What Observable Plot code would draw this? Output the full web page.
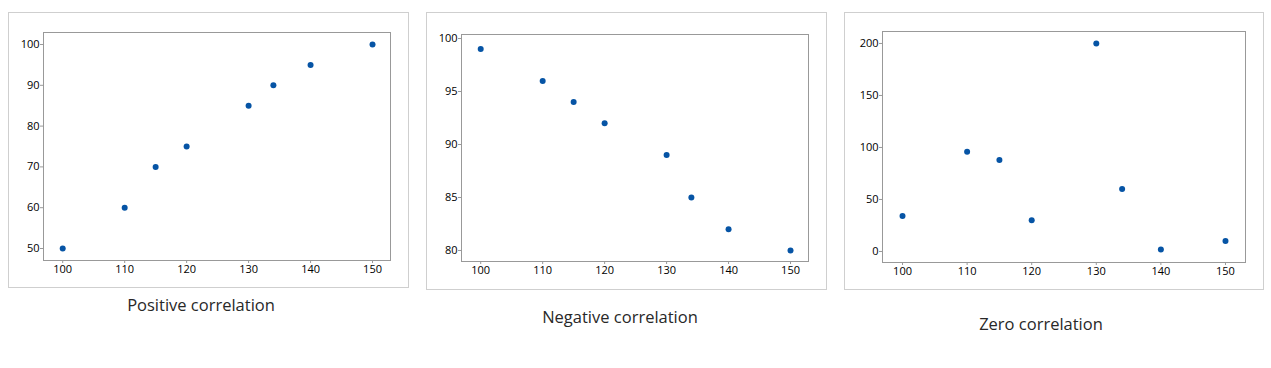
<!DOCTYPE html>
<html>
<head>
<meta charset="utf-8">
<script src="https://cdn.jsdelivr.net/npm/d3@7"></script>
<script src="https://cdn.jsdelivr.net/npm/@observablehq/plot@0.6"></script>
<style>
  html, body { margin: 0; padding: 0; background: #fff; }
  #root { position: relative; width: 1271px; height: 368px; overflow: hidden; }
  .box { position: absolute; border: 1px solid #cfcfcf; box-sizing: border-box; }
  .chart { position: absolute; }
  .cap { position: absolute; font-family: "Open Sans", "Noto Sans", sans-serif; font-size: 16.5px; color: #282828; white-space: nowrap; transform: translate(-50%, -50%); }
</style>
</head>
<body>
<div id="root"></div>
<script>
// ---- data ----
const xValues = [100, 110, 115, 120, 130, 134, 140, 150];
const positiveY = [50, 60, 70, 75, 85, 90, 95, 100];
const negativeY = [99, 96, 94, 92, 89, 85, 82, 80];
const zeroY = [34, 96, 88, 30, 200, 60, 2, 10];
const xTicks = [100, 110, 120, 130, 140, 150];
const positiveTicks = [50, 60, 70, 80, 90, 100];
const negativeTicks = [80, 85, 90, 95, 100];
const zeroTicks = [0, 50, 100, 150, 200];
const captions = ["Positive correlation", "Negative correlation", "Zero correlation"];

const panels = [
  {ys: positiveY, ticks: positiveTicks, ydom: [47.06, 102.94], xdom: [96.9, 152.9],
   left: 8, top: 12, w: 401, h: 276, ml: 35, mr: 19, mt: 20, mb: 28, capX: 201, capY: 304},
  {ys: negativeY, ticks: negativeTicks, ydom: [78.96, 100.38], xdom: [96.9, 152.9],
   left: 426, top: 12, w: 401, h: 278, ml: 35, mr: 19, mt: 22, mb: 29, capX: 620, capY: 316},
  {ys: zeroY, ticks: zeroTicks, ydom: [-10.6, 211.5], xdom: [96.9, 153.1],
   left: 844, top: 12, w: 420, h: 278, ml: 38, mr: 19, mt: 19, mb: 28, capX: 1041, capY: 323}
];

const root = document.getElementById("root");
panels.forEach((p, i) => {
  const data = xValues.map((x, j) => ({x, y: p.ys[j]}));
  const box = document.createElement("div");
  box.className = "box";
  Object.assign(box.style, {left: p.left + "px", top: p.top + "px", width: p.w + "px", height: p.h + "px"});
  root.appendChild(box);

  const chart = Plot.plot({
    width: p.w, height: p.h,
    marginLeft: p.ml, marginRight: p.mr, marginTop: p.mt, marginBottom: p.mb,
    style: {fontFamily: "'Open Sans', 'Noto Sans', sans-serif", fontSize: "11px", color: "#000", background: "transparent"},
    x: {domain: p.xdom, ticks: xTicks, label: null},
    y: {domain: p.ydom, ticks: p.ticks, label: null},
    marks: [
      Plot.frame({stroke: "#999", strokeWidth: 1}),
      Plot.axisX({ticks: xTicks, tickSize: 3, tickPadding: 2, stroke: "#999", fill: "#000", label: null}),
      Plot.axisY({ticks: p.ticks, tickSize: 3, tickPadding: 1, stroke: "#999", fill: "#000", label: null}),
      Plot.dot(data, {x: "x", y: "y", r: 3, fill: "#0654a5", stroke: null})
    ]
  });
  chart.classList.add("chart");
  chart.style.left = p.left + "px";
  chart.style.top = p.top + "px";
  root.appendChild(chart);

  const cap = document.createElement("div");
  cap.className = "cap";
  cap.textContent = captions[i];
  cap.style.left = p.capX + "px";
  cap.style.top = p.capY + "px";
  root.appendChild(cap);
});
</script>
</body>
</html>
